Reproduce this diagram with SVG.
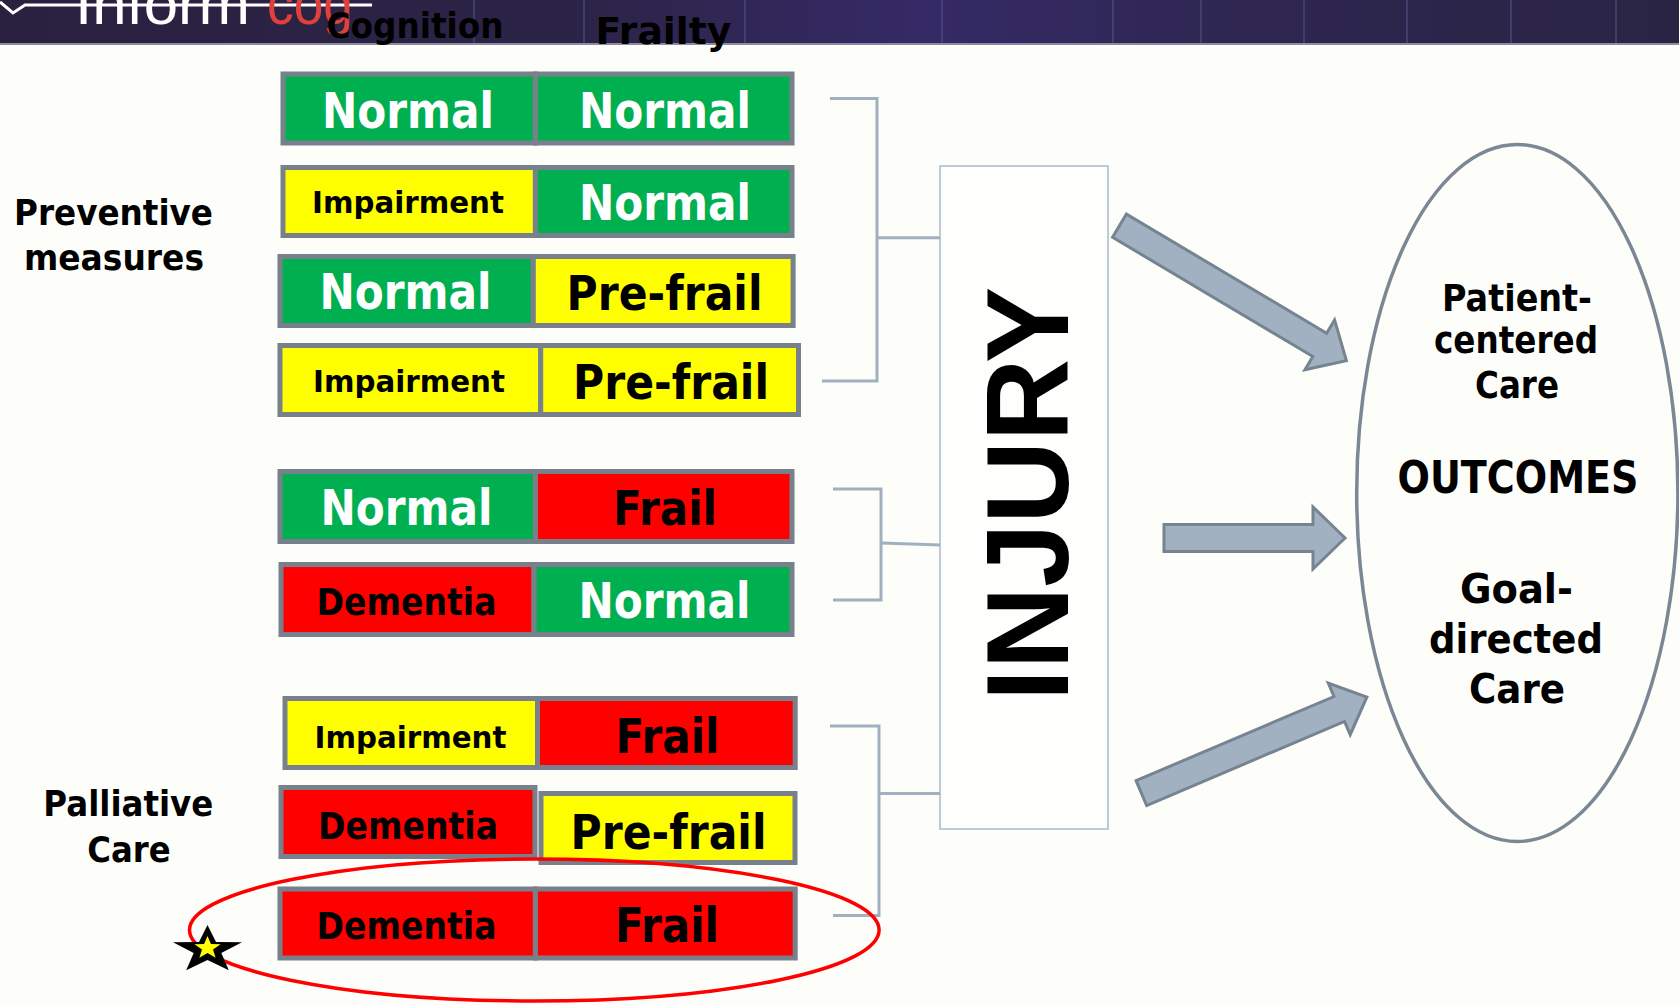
<svg xmlns="http://www.w3.org/2000/svg" width="1679" height="1005" viewBox="0 0 1679 1005">
<style>
text{font-family:"DejaVu Sans","Verdana",sans-serif;font-weight:bold;}
.c{text-anchor:middle;}
.w{fill:#ffffff;}
.k{fill:#000000;}
.g{fill:#00b050;stroke:#78818b;stroke-width:5;}
.y{fill:#ffff00;stroke:#78818b;stroke-width:5;}
.r{fill:#ff0000;stroke:#78818b;stroke-width:5;}
.nm{font-size:49px;}
.im{font-size:31px;}
.pf{font-size:48px;}
.fr{font-size:48px;}
.dm{font-size:37px;}
.br{fill:none;stroke:#a1b0c0;stroke-width:3;}
.arr{fill:#a2b1c1;stroke:#768491;stroke-width:3;stroke-linejoin:miter;}
.lbl{font-size:36px;}
</style>
<defs>
<linearGradient id="hdr" x1="0" y1="0" x2="1" y2="0">
<stop offset="0" stop-color="#2a2140"/>
<stop offset="0.35" stop-color="#2c2448"/>
<stop offset="0.55" stop-color="#352a66"/>
<stop offset="0.75" stop-color="#2e2650"/>
<stop offset="1" stop-color="#2a2444"/>
</linearGradient>
</defs>
<rect x="0" y="0" width="1679" height="1005" fill="#fdfdf9"/>
<g id="header">
<rect x="0" y="0" width="1679" height="44" fill="url(#hdr)"/>
<rect x="0" y="43" width="1679" height="2" fill="#8a8aa0"/>
<g stroke="#55558a" stroke-width="1.5" opacity="0.7">
<line x1="474" y1="0" x2="474" y2="43"/><line x1="584" y1="0" x2="584" y2="43"/><line x1="745" y1="0" x2="745" y2="43"/>
<line x1="942" y1="0" x2="942" y2="43"/><line x1="1113" y1="0" x2="1113" y2="43"/><line x1="1201" y1="0" x2="1201" y2="43"/>
<line x1="1304" y1="0" x2="1304" y2="43"/><line x1="1407" y1="0" x2="1407" y2="43"/><line x1="1511" y1="0" x2="1511" y2="43"/><line x1="1616" y1="0" x2="1616" y2="43"/>
</g>
<polyline points="0,2 13,13 25,5 372,5" fill="none" stroke="#ffffff" stroke-width="3"/>
<text x="75" y="24" font-size="60" style="font-family:'Liberation Sans',sans-serif;font-weight:normal" textLength="175" lengthAdjust="spacingAndGlyphs" fill="#ffffff">Inform</text>
<text x="267" y="24" font-size="60" style="font-family:'Liberation Sans',sans-serif;font-weight:normal" textLength="86" lengthAdjust="spacingAndGlyphs" fill="#e0403a">cog</text>
<text x="326.6" y="38" font-size="36" textLength="177" lengthAdjust="spacingAndGlyphs" class="k">Cognition</text>
<text x="595.4" y="44" font-size="38" textLength="136" lengthAdjust="spacingAndGlyphs" class="k">Frailty</text>
</g>

<g id="label-preventive">
<text class="c k lbl" x="113.5" y="225" textLength="199" lengthAdjust="spacingAndGlyphs">Preventive</text>
<text class="c k lbl" x="114" y="270" textLength="180" lengthAdjust="spacingAndGlyphs">measures</text>
</g>
<g id="label-palliative">
<text class="c k lbl" x="128.3" y="816" textLength="170" lengthAdjust="spacingAndGlyphs">Palliative</text>
<text class="c k lbl" x="129" y="861.7" textLength="83.4" lengthAdjust="spacingAndGlyphs">Care</text>
</g>

<g id="row1">
<rect class="g" x="283" y="74" width="252.4" height="69"/>
<rect class="g" x="535.4" y="74" width="256.6" height="69"/>
<text class="c w nm" x="408" y="128" textLength="172" lengthAdjust="spacingAndGlyphs">Normal</text>
<text class="c w nm" x="665" y="128" textLength="172" lengthAdjust="spacingAndGlyphs">Normal</text>
</g>
<g id="row2">
<rect class="y" x="283" y="167.5" width="252.4" height="68"/>
<rect class="g" x="535.4" y="167.5" width="256.6" height="68"/>
<text class="c k im" x="408" y="213" textLength="192" lengthAdjust="spacingAndGlyphs">Impairment</text>
<text class="c w nm" x="665" y="220" textLength="172" lengthAdjust="spacingAndGlyphs">Normal</text>
</g>
<g id="row3">
<rect class="g" x="280" y="256.5" width="253.3" height="69"/>
<rect class="y" x="533.3" y="256.5" width="259.8" height="69"/>
<text class="c w nm" x="405.5" y="309" textLength="172" lengthAdjust="spacingAndGlyphs">Normal</text>
<text class="c k pf" x="664.5" y="310" textLength="196" lengthAdjust="spacingAndGlyphs">Pre-frail</text>
</g>
<g id="row4">
<rect class="y" x="280" y="345.5" width="260.7" height="69"/>
<rect class="y" x="540.7" y="345.5" width="257.8" height="69"/>
<text class="c k im" x="409" y="391.5" textLength="192" lengthAdjust="spacingAndGlyphs">Impairment</text>
<text class="c k pf" x="671" y="399" textLength="196" lengthAdjust="spacingAndGlyphs">Pre-frail</text>
</g>
<g id="row5">
<rect class="g" x="280" y="471.5" width="255.4" height="70"/>
<rect class="r" x="535.4" y="471.5" width="256.6" height="70"/>
<text class="c w nm" x="406.4" y="525" textLength="172" lengthAdjust="spacingAndGlyphs">Normal</text>
<text class="c k fr" x="665" y="525" textLength="104" lengthAdjust="spacingAndGlyphs">Frail</text>
</g>
<g id="row6">
<rect class="r" x="281" y="564.5" width="253" height="70"/>
<rect class="g" x="534" y="564.5" width="258" height="70"/>
<text class="c k dm" x="406.5" y="615" textLength="180" lengthAdjust="spacingAndGlyphs">Dementia</text>
<text class="c w nm" x="664.5" y="618" textLength="172" lengthAdjust="spacingAndGlyphs">Normal</text>
</g>
<g id="row7">
<rect class="y" x="285" y="698.5" width="252.5" height="69"/>
<rect class="r" x="537.5" y="698.5" width="257.7" height="69"/>
<text class="c k im" x="410.5" y="747.5" textLength="192" lengthAdjust="spacingAndGlyphs">Impairment</text>
<text class="c k fr" x="667.5" y="752.5" textLength="104" lengthAdjust="spacingAndGlyphs">Frail</text>
</g>
<g id="row8">
<rect class="y" x="541" y="793.5" width="254" height="69"/>
<rect class="r" x="281" y="787.5" width="254" height="69"/>
<text class="c k dm" x="408" y="838.5" textLength="180" lengthAdjust="spacingAndGlyphs">Dementia</text>
<text class="c k pf" x="668.5" y="849" textLength="196" lengthAdjust="spacingAndGlyphs">Pre-frail</text>
</g>
<g id="row9">
<rect class="r" x="280" y="889" width="255.4" height="69"/>
<rect class="r" x="535.4" y="889" width="259.8" height="69"/>
<text class="c k dm" x="406.5" y="939" textLength="180" lengthAdjust="spacingAndGlyphs">Dementia</text>
<text class="c k fr" x="667" y="942" textLength="104" lengthAdjust="spacingAndGlyphs">Frail</text>
</g>

<g id="injury">
<rect x="940" y="166" width="168" height="663" fill="#fefefc" stroke="#a8b9cc" stroke-width="1.5"/>
<text class="c k" font-size="116" style="font-family:'Liberation Sans',Arial,sans-serif;font-weight:bold" transform="translate(1068,494) rotate(-90)" x="0" y="0" textLength="414" lengthAdjust="spacingAndGlyphs">INJURY</text>
</g>

<g id="outcomes">
<ellipse cx="1517.3" cy="493" rx="160.6" ry="348.5" fill="none" stroke="#7b8794" stroke-width="3.5"/>
<text class="c k" font-size="38" x="1517" y="310.7" textLength="150" lengthAdjust="spacingAndGlyphs">Patient-</text>
<text class="c k" font-size="38" x="1516" y="353" textLength="164" lengthAdjust="spacingAndGlyphs">centered</text>
<text class="c k" font-size="38" x="1517" y="398" textLength="84" lengthAdjust="spacingAndGlyphs">Care</text>
<text class="c k" font-size="44" x="1518" y="492.6" textLength="241" lengthAdjust="spacingAndGlyphs">OUTCOMES</text>
<text class="c k" font-size="40" x="1516.5" y="602.7" textLength="113" lengthAdjust="spacingAndGlyphs">Goal-</text>
<text class="c k" font-size="40" x="1516" y="653" textLength="174" lengthAdjust="spacingAndGlyphs">directed</text>
<text class="c k" font-size="40" x="1517" y="703" textLength="96" lengthAdjust="spacingAndGlyphs">Care</text>
</g>

<g id="connectors">
<polyline class="br" points="830,98.5 877,98.5 877,381 822,381"/>
<line class="br" x1="877" y1="237.7" x2="940" y2="237.7"/>
<polyline class="br" points="833,489 881,489 881,600 833,600"/>
<line class="br" x1="881" y1="543" x2="940" y2="545"/>
<polyline class="br" points="830,726 879,726 879,915.5 833,915.5"/>
<line class="br" x1="879" y1="793.5" x2="940" y2="793.5"/>
<polygon class="arr" transform="translate(1119.5,225.7) rotate(30.75)" points="0,-13.5 233,-13.5 233,-29 264,0 233,29 233,13.5 0,13.5"/>
<polygon class="arr" transform="translate(1164,538)" points="0,-13.5 149,-13.5 149,-31 181,0 149,31 149,13.5 0,13.5"/>
<polygon class="arr" transform="translate(1141.4,793.1) rotate(-23.04)" points="0,-13.5 215,-13.5 215,-28 245,0 215,28 215,13.5 0,13.5"/>
</g>

<g id="highlight">
<ellipse cx="534.3" cy="930" rx="344.8" ry="71" fill="none" stroke="#ff0000" stroke-width="3.5"/>
<polygon fill="#000000" points="207.5,925 216,941.9 242,942.3 221.3,953.1 228.8,970.2 207.5,960 186.2,970.2 193.7,953.1 173,942.3 199,941.9"/>
<polygon fill="#ffff00" points="207.5,936 210.9,944 220.6,944.3 213,949.5 215.6,957.7 207.5,953 199.4,957.7 202,949.5 194.4,944.3 204.1,944"/>
</g>
</svg>
